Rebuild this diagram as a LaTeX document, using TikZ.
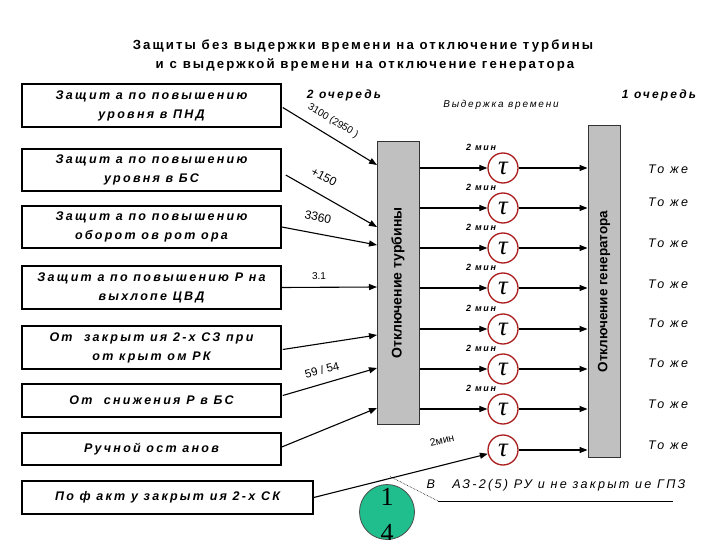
\documentclass[tikz,border=0pt]{standalone}
\usepackage{fontspec}
\setmainfont{Liberation Sans}
\newfontfamily\spc[LetterSpace=18]{Liberation Sans}
\newfontfamily\spt[LetterSpace=16]{Liberation Sans}
\newfontfamily\serifnum{Liberation Serif}
\usetikzlibrary{arrows.meta,calc}
\definecolor{grayfill}{RGB}{192,192,192}
\definecolor{taured}{RGB}{170,30,30}
\definecolor{greenc}{RGB}{32,190,140}
\begin{document}
\begin{tikzpicture}[x=1pt,y=-1pt,
  lbox/.style={draw=black, line width=1.5pt, fill=white, minimum width=259pt, inner sep=0pt, align=center,
    font=\spc\bfseries\itshape\fontsize{12.5}{19}\selectfont},
  gbox/.style={draw=black!80, line width=1pt, fill=grayfill, inner sep=0pt},
  tau/.style={circle, draw=taured, line width=1.3pt, fill=white, minimum size=30pt, inner sep=0pt,
    font=\serifnum\itshape\fontsize{27}{27}\selectfont},
  arr/.style={-{Triangle[length=8pt,width=6pt]}, line width=1.1pt},
  ttl/.style={font=\spt\bfseries\fontsize{13.2}{15}\selectfont},
  que/.style={font=\spc\bfseries\itshape\fontsize{12}{14}\selectfont},
  same/.style={font=\spc\itshape\fontsize{12.5}{14}\selectfont},
  mins/.style={font=\spc\bfseries\itshape\fontsize{9}{10}\selectfont},
  val/.style={font=\fontsize{10}{12}\selectfont}
]
\useasboundingbox (0,0) rectangle (720,540);
\fill[white] (0,0) rectangle (720,540);

% titles
\node[ttl] (title1) at (363,46) {Защиты без выдержки времени на отключение турбины};
\node[ttl] (title2) at (365,65) {и с выдержкой времени на отключение генератора};
\node[que] (q2) at (344,95) {2 очередь};
\node[que] (q1) at (659,95) {1 очередь};
\node[font=\spc\itshape\fontsize{10}{12}\selectfont] (vyd) at (501,105) {Выдержка времени};

% left boxes
\node[lbox, minimum height=43pt] (b1) at (151.5,105.5) {Защит а по повышению\\уровня в ПНД};
\node[lbox, minimum height=42pt] (b2) at (151.5,170) {Защит а по повышению\\уровня в БС};
\node[lbox, minimum height=42pt] (b3) at (151.5,227) {Защит а по повышению\\оборот ов рот ора};
\node[lbox, minimum height=43pt] (b4) at (151.5,287.5) {Защит а по повышению Р на\\выхлопе ЦВД};
\node[lbox, minimum height=43pt] (b5) at (151.5,347.5) {От \ закрыт ия 2-х СЗ при\\от крыт ом РК};
\node[lbox, minimum height=33pt] (b6) at (151.5,400.5) {От \ снижения Р в БС};
\node[lbox, minimum height=32pt] (b7) at (151.5,449) {Ручной ост анов};
\node[lbox, minimum height=33pt, minimum width=291pt] (b8) at (167.5,497.5) {По ф акт у закрыт ия 2-х СК};

% gray boxes
\node[gbox, minimum width=42pt, minimum height=282pt] (turb) at (398,283) {};
\node[rotate=90, font=\bfseries\fontsize{14}{14}\selectfont] (turbtxt) at (turb.center) {Отключение турбины};
\node[gbox, minimum width=32pt, minimum height=331pt] (gen) at (604,291.5) {};
\node[rotate=90, font=\bfseries\fontsize{13.5}{14}\selectfont] (gentxt) at (gen.center) {Отключение генератора};

% inputs to turbine
\coordinate (t1) at (377,165);
\coordinate (t2) at (377,227);
\coordinate (t3) at (377,245);
\coordinate (t4) at (377,287);
\coordinate (t5) at (377,335);
\coordinate (t6) at (377,368);
\coordinate (t7) at (377,408);
\draw[arr] ($(b1.east)+(1,2)$) -- (t1);
\draw[arr] ($(b2.east)+(4,5)$) -- (t2);
\draw[arr] (b3.east) -- (t3);
\draw[arr] (b4.east) -- (t4);
\draw[arr] ($(b5.east)+(1,2)$) -- (t5);
\draw[arr] ($(b6.east)+(1,-5)$) -- (t6);
\draw[arr] ($(b7.east)+(0,-2)$) -- (t7);

\node[val, rotate=-31] (l1) at (333,121) {3100 (2950 )};
\node[val, font=\fontsize{12}{12}\selectfont, rotate=-28] (l2) at (324,177) {+150};
\node[val, font=\fontsize{12}{12}\selectfont, rotate=-12] (l3) at (318,217) {3360};
\node[val] (l4) at (319,276) {3.1};
\node[val, font=\fontsize{11.5}{12}\selectfont, rotate=15] (l6) at (322,370) {59 / 54};

% timers
\foreach \i/\y in {1/168,2/208,3/248,4/288,5/329,6/369,7/409}{
  \node[tau] (c\i) at (503,\y) {τ};
  \draw[arr] (turb.east |- c\i) -- (c\i.west);
  \draw[arr] (c\i.east) -- (gen.west |- c\i);
  \node[mins] (m\i) at ($(c\i)+(-22,-21)$) {2 мин};
}
\node[tau] (c8) at (503,450) {τ};
\draw[arr] (b8.east) -- (c8);
\draw[arr] (c8.east) -- (gen.west |- c8);
\node[font=\fontsize{10.5}{11}\selectfont, rotate=13] (m8) at (442,440) {2мин};

% right labels
\foreach \i/\y in {1/169,2/202,3/243,4/284,5/323,6/363,7/404,8/445}{
  \node[same] (s\i) at (668,\y) {То же};
}

% bottom remark
\coordinate (jn) at ($(b8.east)!0.44!(c8.west)$);
\coordinate (u1) at (438,501);
\coordinate (u2) at (673,501);
\draw[densely dotted, line width=0.6pt] (jn) -- (u1);
\draw[line width=0.8pt] (u1) -- (u2);
\node[font=\spc\itshape\fontsize{12.6}{14}\selectfont] (vaz) at (556,485) {В \ \ АЗ-2(5) РУ и не закрыт ие ГПЗ};

% page number circle
\node[circle, draw=black!70, line width=0.8pt, fill=greenc, minimum size=55pt, inner sep=0pt] (gc) at (387,512) {};
\node[font=\serifnum\fontsize{26}{26}\selectfont] (n1) at (387,497) {1};
\node[font=\serifnum\fontsize{26}{26}\selectfont] (n4) at (387,533) {4};
\end{tikzpicture}
\end{document}
